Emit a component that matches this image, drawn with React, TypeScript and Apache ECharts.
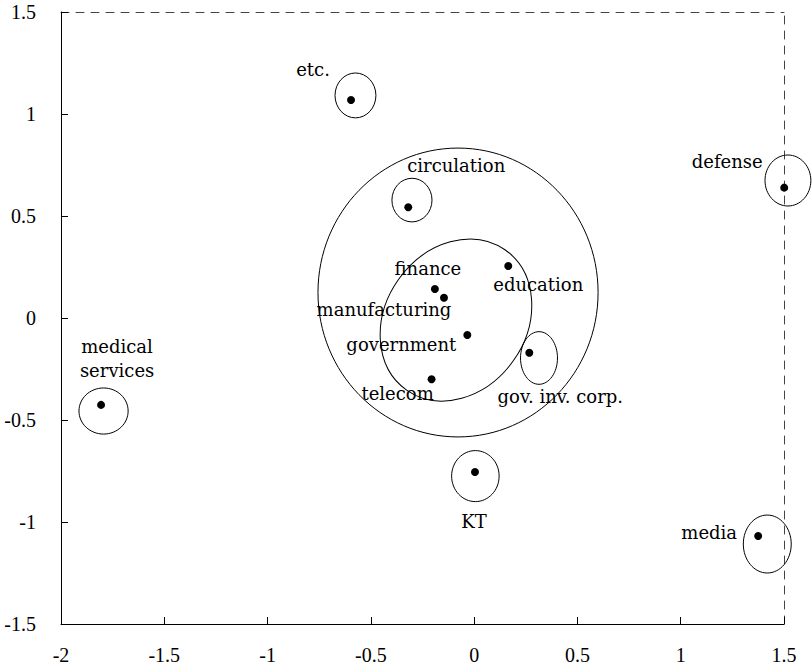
import React, { useEffect, useRef } from "react";
import * as echarts from "echarts";

// ---- data ----
const names = ["etc.", "circulation", "defense", "finance", "manufacturing", "education", "government", "gov. inv. corp.", "telecom", "medical\nservices", "KT", "media"];
const xs = [-0.596, -0.319, 1.501, -0.19, -0.146, 0.165, -0.033, 0.267, -0.206, -1.806, 0.004, 1.375];
const ys = [1.069, 0.543, 0.639, 0.142, 0.099, 0.255, -0.083, -0.17, -0.3, -0.426, -0.755, -1.069];

// ellipses: centre x, centre y, radius x, radius y (data units), rotation (deg)
const ellipseCx = [-0.078, -0.088, -0.5745, -0.301, 1.519, 0.314, -1.794, 0.006, 1.419];
const ellipseCy = [0.125, -0.01, 1.091, 0.578, 0.674, -0.196, -0.456, -0.775, -1.108];
const ellipseRx = [0.678, 0.415, 0.099, 0.097, 0.111, 0.0895, 0.119, 0.115, 0.116];
const ellipseRy = [0.708, 0.345, 0.11, 0.107, 0.125, 0.129, 0.113, 0.125, 0.142];
const ellipseRot = [0, 54.8, 0, 0, 0, 0, 0, 0, 0];

const xTicks = { min: -2, max: 1.5, interval: 0.5 };
const yTicks = { min: -1.5, max: 1.5, interval: 0.5 };

// label offsets in pixels (layout, not data)
const labelOffsets: [number, number][] = [
  [-38, -30], [48, -42], [-57, -26], [-7, -21], [-60, 12], [30, 19],
  [-66, 10], [31, 44], [-34, 14], [16, -46], [-1, 49], [-49, -4],
];

export default function App() {
  const ref = useRef<HTMLDivElement>(null);
  useEffect(() => {
    if (!ref.current) return;
    const chart = echarts.init(ref.current, null, { renderer: "svg" });
    const labelFont = "DejaVu Serif";
    const tickFont = "Liberation Serif";
    const pointData = names.map((n, i) => ({
      value: [xs[i], ys[i]],
      name: n,
      label: {
        show: true,
        position: "inside",
        offset: labelOffsets[i],
        formatter: n,
        align: "center",
        verticalAlign: "middle",
        fontFamily: labelFont,
        fontSize: 18,
        lineHeight: 24,
        color: "#000",
      },
    }));
    const ellipseData = ellipseCx.map((cx, i) => [cx, ellipseCy[i], ellipseRx[i], ellipseRy[i], ellipseRot[i]]);
    const dashed = { type: [8, 7] as any, color: "#444", width: 1 };
    chart.setOption({
      animation: false,
      backgroundColor: "#fff",
      grid: { left: 61, right: 28, top: 12, bottom: 42, containLabel: false },
      xAxis: [
        {
          type: "value",
          position: "bottom",
          min: xTicks.min,
          max: xTicks.max,
          interval: xTicks.interval,
          axisLine: { show: true, onZero: false, lineStyle: { color: "#000", width: 1 } },
          axisTick: { show: true, inside: true, length: 7, lineStyle: { color: "#000" } },
          axisLabel: { color: "#000", fontFamily: tickFont, fontSize: 20, margin: 21 },
          splitLine: { show: false },
        },
        {
          type: "value",
          position: "top",
          min: xTicks.min,
          max: xTicks.max,
          interval: xTicks.interval,
          axisLine: { show: true, onZero: false, lineStyle: dashed },
          axisTick: { show: false },
          axisLabel: { show: false },
          splitLine: { show: false },
        },
      ],
      yAxis: [
        {
          type: "value",
          position: "left",
          min: yTicks.min,
          max: yTicks.max,
          interval: yTicks.interval,
          axisLine: { show: true, onZero: false, lineStyle: { color: "#000", width: 1 } },
          axisTick: { show: true, inside: true, length: 7, lineStyle: { color: "#000" } },
          axisLabel: { color: "#000", fontFamily: tickFont, fontSize: 20, margin: 25 },
          splitLine: { show: false },
        },
        {
          type: "value",
          position: "right",
          min: yTicks.min,
          max: yTicks.max,
          interval: yTicks.interval,
          axisLine: { show: true, onZero: false, lineStyle: dashed },
          axisTick: { show: false },
          axisLabel: { show: false },
          splitLine: { show: false },
        },
      ],
      series: [
        {
          type: "custom",
          xAxisIndex: 0,
          yAxisIndex: 0,
          clip: false,
          silent: true,
          data: ellipseData,
          renderItem: (params: any, api: any) => {
            const c = api.coord([api.value(0), api.value(1)]);
            const s = api.size([api.value(2), api.value(3)]);
            return {
              type: "ellipse",
              x: c[0],
              y: c[1],
              rotation: (api.value(4) * Math.PI) / 180,
              shape: { cx: 0, cy: 0, rx: s[0], ry: s[1] },
              style: { fill: "none", stroke: "#000", lineWidth: 1 },
            };
          },
        },
        {
          type: "scatter",
          xAxisIndex: 0,
          yAxisIndex: 0,
          clip: false,
          symbol: "circle",
          symbolSize: 8,
          itemStyle: { color: "#000", opacity: 1 },
          data: pointData,
          z: 5,
        },
      ],
    });
    return () => chart.dispose();
  }, []);
  return <div ref={ref} style={{ position: "fixed", left: 0, top: 0, width: 812, height: 666 }} />;
}
